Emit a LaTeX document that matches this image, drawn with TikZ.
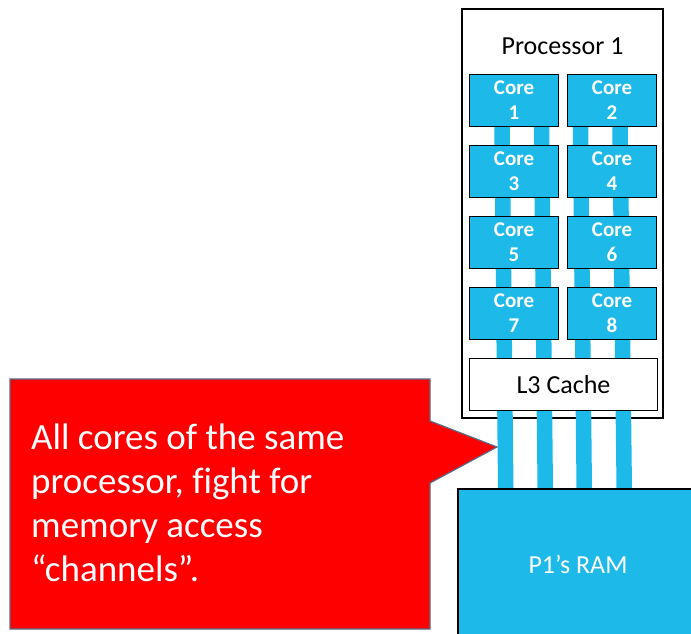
\documentclass[tikz,border=0pt]{standalone}
\usepackage{fontspec}
\setmainfont{Carlito}[Ligatures=CommonOff]
\usepackage{tikz}
\usetikzlibrary{positioning,backgrounds}
\definecolor{corecol}{RGB}{29,185,232}
\definecolor{notered}{RGB}{255,0,0}
\definecolor{noteedge}{RGB}{88,108,138}

\begin{document}
\begin{tikzpicture}[x=1pt,y=-1pt,node distance=19pt and 9pt,
  core/.style={draw,line width=1.5pt,fill=corecol,text=white,inner sep=0pt,
    outer sep=0pt,font=\fontsize{21}{25}\selectfont\bfseries,align=center,
    minimum width=89pt,minimum height=52pt},
  box/.style={draw,line width=1.5pt,fill=white,inner sep=0pt,outer sep=0pt,
    font=\fontsize{26}{31}\selectfont,minimum width=188pt,minimum height=52pt},
  bus/.style={draw=corecol,line width=15.5pt}]
  \useasboundingbox (0,0) rectangle (691,634);
  \begin{scope}[on background layer]
    \node[draw,line width=1.2pt,fill=white,inner sep=0pt,
      minimum width=201pt,minimum height=409pt] (proc) at (562.5,213.5) {};
  \end{scope}
  \node[font=\fontsize{26}{31}\selectfont] (title) at (562.5,46) {Processor 1};
  % cores, two per row
  \node[core] (c1) at (514,100.5) {Core\\1};
  \node[core,right=of c1] (c2) {Core\\2};
  \node[core,below=of c1] (c3) {Core\\3};
  \node[core,right=of c3] (c4) {Core\\4};
  \node[core,below=of c3] (c5) {Core\\5};
  \node[core,right=of c5] (c6) {Core\\6};
  \node[core,below=of c5] (c7) {Core\\7};
  \node[core,right=of c7] (c8) {Core\\8};
  \node[box,below right=19pt and 0pt of c7.south west] (l3) {L3 Cache};
  \node[draw,line width=1.5pt,fill=corecol,text=white,
    font=\fontsize{26}{31}\selectfont,minimum width=240pt,
    minimum height=150pt] (ram) at (578,564) {P1’s RAM};
  % memory channels
  \begin{scope}[on background layer]
    \draw[bus] ([xshift=32.5pt]c1.south west) -- ([xshift=48.5pt]ram.north west);
    \draw[bus] ([xshift=72pt]c1.south west) -- ([xshift=88pt]ram.north west);
    \draw[bus] ([xshift=13pt]c2.south west) -- ([xshift=127pt]ram.north west);
    \draw[bus] ([xshift=52.5pt]c2.south west) -- ([xshift=167pt]ram.north west);
  \end{scope}
  % callout
  \draw[fill=notered,draw=noteedge,line width=1.2pt]
    (10,379) -- (430,379) -- (430,421) -- (497,447) -- (430,483)
    -- (430,629) -- (10,629) -- cycle;
  \node[anchor=north west,text=white,align=left,inner sep=0pt,
    font=\fontsize{37}{44}\selectfont] (note) at (31,424)
    {All cores of the same\\processor, fight for\\memory access\\“channels”.};
\end{tikzpicture}
\end{document}
